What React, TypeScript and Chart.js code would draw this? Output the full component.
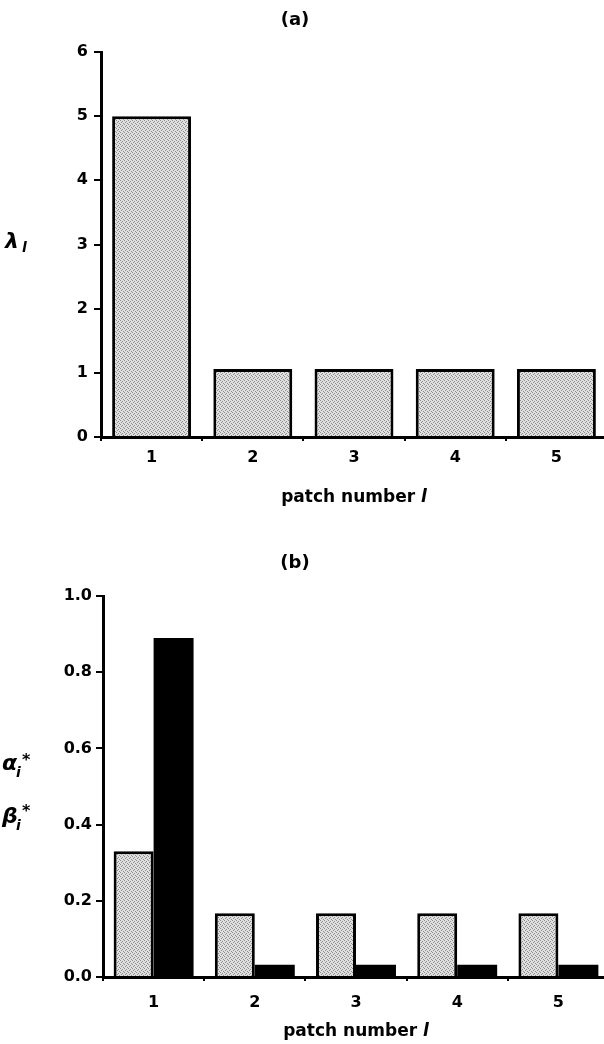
import React, { useEffect, useRef } from 'react';
import { Chart, registerables } from 'chart.js';

Chart.register(...registerables);

// ---------- data ----------
const PATCH_LABELS = ['1', '2', '3', '4', '5'];
const LAMBDA = [5.0, 1.06, 1.06, 1.06, 1.06];
const ALPHA_STAR = [0.33, 0.167, 0.167, 0.167, 0.167];
const BETA_STAR = [0.89, 0.032, 0.032, 0.032, 0.032];

const A_Y_MIN = 0;
const A_Y_MAX = 6;
const A_Y_STEP = 1;
const B_Y_MIN = 0;
const B_Y_MAX = 1;
const B_Y_STEP = 0.2;

const TITLE_A = '(a)';
const TITLE_B = '(b)';
const X_TITLE = 'patch number ';
const X_TITLE_VAR = 'l';

const FONT = '"DejaVu Sans", sans-serif';

function makeStipple(): CanvasPattern | string {
  const tile = document.createElement('canvas');
  tile.width = 4;
  tile.height = 4;
  const c = tile.getContext('2d');
  if (!c) return '#cdcdcd';
  c.fillStyle = '#e0e0e0';
  c.fillRect(0, 0, 4, 4);
  c.fillStyle = '#8c8c8c';
  c.fillRect(0, 0, 1, 1);
  c.fillRect(2, 1, 1, 1);
  c.fillRect(1, 2, 1, 1);
  c.fillRect(3, 3, 1, 1);
  const p = c.createPattern(tile, 'repeat');
  return p || '#cdcdcd';
}

type Piece = {
  text: string;
  font: string;
  x: number;
  y: number;
  align?: CanvasTextAlign;
  baseline?: CanvasTextBaseline;
};

function textPlugin(id: string, pieces: Piece[], xTitleOffset: number) {
  return {
    id,
    afterDraw(chart: any) {
      const ctx: CanvasRenderingContext2D = chart.ctx;
      ctx.save();
      ctx.fillStyle = '#000';
      for (const p of pieces) {
        ctx.font = p.font;
        ctx.textAlign = p.align ?? 'left';
        ctx.textBaseline = p.baseline ?? 'alphabetic';
        ctx.fillText(p.text, p.x, p.y);
      }
      // x-axis title with italic variable
      const a = chart.chartArea;
      const f1 = `bold 17px ${FONT}`;
      const f2 = `italic bold 17px ${FONT}`;
      ctx.font = f1;
      const w1 = ctx.measureText(X_TITLE).width;
      ctx.font = f2;
      const w2 = ctx.measureText(X_TITLE_VAR).width;
      const cx = (a.left + a.right) / 2;
      const x0 = cx - (w1 + w2) / 2;
      const y = a.bottom + xTitleOffset;
      ctx.textAlign = 'left';
      ctx.textBaseline = 'middle';
      ctx.font = f1;
      ctx.fillText(X_TITLE, x0, y);
      ctx.font = f2;
      ctx.fillText(X_TITLE_VAR, x0 + w1, y);
      ctx.restore();
    },
  };
}

function xScale(height: number, labelPad: number) {
  return {
    type: 'category' as const,
    offset: true,
    z: 1,
    grid: {
      offset: true,
      drawOnChartArea: false,
      drawTicks: true,
      tickLength: 4,
      lineWidth: 2,
      color: '#000',
    },
    border: { display: true, width: 3, color: '#000' },
    ticks: {
      color: '#000',
      font: { family: FONT, size: 16, weight: 'bold' as const },
      padding: labelPad,
      maxRotation: 0,
      autoSkip: false,
    },
    afterFit: (s: any) => {
      s.height = height;
    },
  };
}

export default function App() {
  const refA = useRef<HTMLCanvasElement>(null);
  const refB = useRef<HTMLCanvasElement>(null);

  useEffect(() => {
    const stipple = makeStipple();

    const chartA = new Chart(refA.current as HTMLCanvasElement, {
      type: 'bar',
      data: {
        labels: PATCH_LABELS,
        datasets: [
          {
            label: 'lambda',
            data: LAMBDA,
            backgroundColor: stipple as any,
            borderColor: '#000',
            borderWidth: 3,
            borderSkipped: 'start',
            barPercentage: 0.78,
            categoryPercentage: 1.0,
          },
        ],
      },
      options: {
        animation: false,
        responsive: false,
        events: [],
        layout: { padding: { top: 52, left: 0, right: 0, bottom: 0 } },
        plugins: {
          legend: { display: false },
          tooltip: { enabled: false },
          title: { display: false },
        },
        scales: {
          x: xScale(83, 7) as any,
          y: {
            min: A_Y_MIN,
            max: A_Y_MAX,
            z: 1,
            grid: {
              drawOnChartArea: false,
              drawTicks: true,
              tickLength: 7,
              lineWidth: 2,
              color: '#000',
            },
            border: { display: true, width: 3, color: '#000' },
            ticks: {
              stepSize: A_Y_STEP,
              color: '#000',
              font: { family: FONT, size: 16, weight: 'bold' },
              padding: 6,
            },
            afterFit: (s: any) => {
              s.width = 101;
            },
          } as any,
        },
      },
      plugins: [
        textPlugin(
          'labelsA',
          [
            { text: TITLE_A, font: `bold 18px ${FONT}`, x: 295, y: 20, align: 'center', baseline: 'middle' },
            { text: 'λ', font: `italic bold 22px ${FONT}`, x: 5, y: 248 },
            { text: 'l', font: `italic bold 14px ${FONT}`, x: 22, y: 252 },
          ],
          61
        ),
      ],
    });

    const chartB = new Chart(refB.current as HTMLCanvasElement, {
      type: 'bar',
      data: {
        labels: PATCH_LABELS,
        datasets: [
          {
            label: 'alpha*',
            data: ALPHA_STAR,
            backgroundColor: stipple as any,
            borderColor: '#000',
            borderWidth: 3,
            borderSkipped: 'start',
            barPercentage: 1.0,
            categoryPercentage: 0.79,
          },
          {
            label: 'beta*',
            data: BETA_STAR,
            backgroundColor: '#000',
            borderColor: '#000',
            borderWidth: 0,
            barPercentage: 1.0,
            categoryPercentage: 0.79,
          },
        ],
      },
      options: {
        animation: false,
        responsive: false,
        events: [],
        layout: { padding: { top: 76, left: 0, right: 0, bottom: 0 } },
        plugins: {
          legend: { display: false },
          tooltip: { enabled: false },
          title: { display: false },
        },
        scales: {
          x: xScale(67, 12) as any,
          y: {
            min: B_Y_MIN,
            max: B_Y_MAX,
            z: 1,
            grid: {
              drawOnChartArea: false,
              drawTicks: true,
              tickLength: 7,
              lineWidth: 2,
              color: '#000',
            },
            border: { display: true, width: 3, color: '#000' },
            ticks: {
              stepSize: B_Y_STEP,
              color: '#000',
              font: { family: FONT, size: 16, weight: 'bold' },
              padding: 4,
              callback: (v: any) => Number(v).toFixed(1),
            },
            afterFit: (s: any) => {
              s.width = 103;
            },
          } as any,
        },
      },
      plugins: [
        textPlugin(
          'labelsB',
          [
            { text: TITLE_B, font: `bold 18px ${FONT}`, x: 295, y: 43, align: 'center', baseline: 'middle' },
            { text: 'α', font: `italic bold 22px ${FONT}`, x: 2, y: 250 },
            { text: 'i', font: `italic bold 14px ${FONT}`, x: 16, y: 257 },
            { text: '*', font: `bold 16px ${FONT}`, x: 22, y: 245 },
            { text: 'β', font: `italic bold 22px ${FONT}`, x: 2, y: 303 },
            { text: 'i', font: `italic bold 14px ${FONT}`, x: 16, y: 310 },
            { text: '*', font: `bold 16px ${FONT}`, x: 22, y: 296 },
          ],
          55
        ),
      ],
    });

    return () => {
      chartA.destroy();
      chartB.destroy();
    };
  }, []);

  return (
    <div
      style={{
        position: 'absolute',
        left: 0,
        top: 0,
        width: 604,
        height: 1044,
        overflow: 'hidden',
        background: '#fff',
      }}
    >
      <canvas ref={refA} width={607} height={520} style={{ display: 'block' }} />
      <canvas ref={refB} width={609} height={524} style={{ display: 'block' }} />
    </div>
  );
}
